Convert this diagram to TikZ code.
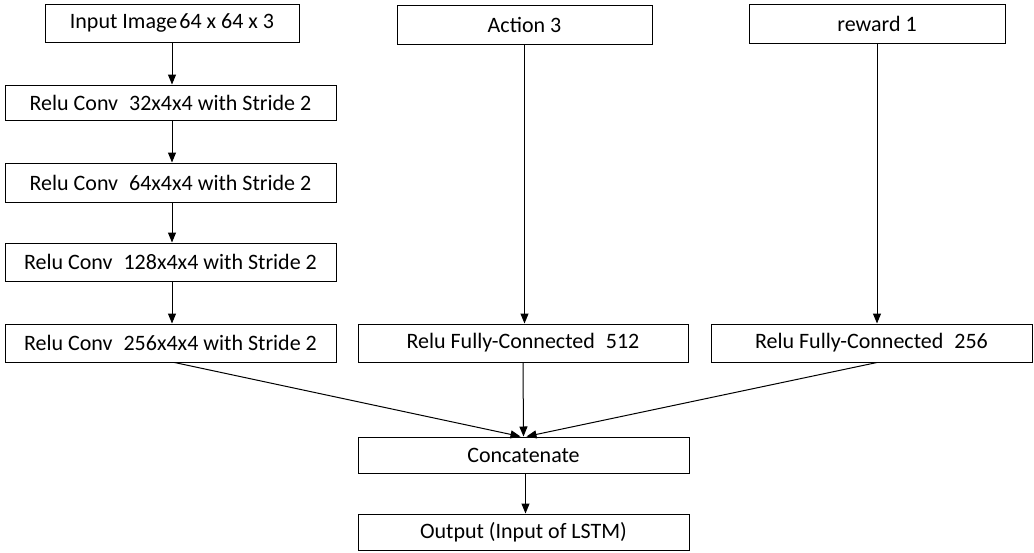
\documentclass[tikz,border=0pt]{standalone}
\usepackage{fontspec}
\setmainfont{Carlito}
\usetikzlibrary{arrows.meta}
\tikzset{
  box/.style={draw, line width=1pt, inner sep=0pt, font=\fontsize{22}{25}\selectfont},
  arr/.style={line width=1pt, -{Triangle[length=10pt,width=8pt]}}
}
\begin{document}
\begin{tikzpicture}[x=1pt,y=-1pt]
\useasboundingbox (0,0) rectangle (1034,552);
\node[box, minimum width=254pt, minimum height=38pt] (in) at (172,23) {Input Image\hspace{0.1em}64 x 64 x 3};
\node[box, minimum width=331pt, minimum height=35pt] (c1) at (170.5,102.5) {Relu Conv\enspace 32x4x4 with Stride 2};
\node[box, minimum width=331pt, minimum height=39pt] (c2) at (170.5,182.5) {Relu Conv\enspace 64x4x4 with Stride 2};
\node[box, minimum width=331pt, minimum height=38pt] (c3) at (170.5,262) {Relu Conv\enspace 128x4x4 with Stride 2};
\node[box, minimum width=331pt, minimum height=38pt] (c4) at (170.5,343) {Relu Conv\enspace 256x4x4 with Stride 2};
\node[box, minimum width=255pt, minimum height=39pt] (act) at (524.5,24.5) {Action 3};
\node[box, minimum width=256pt, minimum height=39pt] (rew) at (877,23.5) {reward 1};
\node[box, minimum width=330pt, minimum height=38pt] (fc1) at (523,343) {Relu Fully-Connected\enspace 512};
\node[box, minimum width=321pt, minimum height=38pt] (fc2) at (871.5,343) {Relu Fully-Connected\enspace 256};
\node[box, minimum width=331pt, minimum height=36pt] (cat) at (523.5,455) {Concatenate};
\node[box, minimum width=331pt, minimum height=36pt] (out) at (523.5,532) {Output (Input of LSTM)};
\draw[arr] (in.south) -- (in.south |- c1.north);
\draw[arr] (in.south |- c1.south) -- (in.south |- c2.north);
\draw[arr] (in.south |- c2.south) -- (in.south |- c3.north);
\draw[arr] (in.south |- c3.south) -- (in.south |- c4.north);
\draw[arr] (act.south) -- (act.south |- fc1.north);
\draw[arr] (rew.south) -- (rew.south |- fc2.north);
\draw[arr] ([xshift=4pt]c4.south) -- ([xshift=-3pt]cat.north);
\draw[arr] (fc1.south) -- (cat.north);
\draw[arr] ([xshift=5.5pt]fc2.south) -- ([xshift=3pt]cat.north);
\draw[arr] ([xshift=2pt]cat.south) -- ([xshift=2pt]out.north);
\end{tikzpicture}
\end{document}
